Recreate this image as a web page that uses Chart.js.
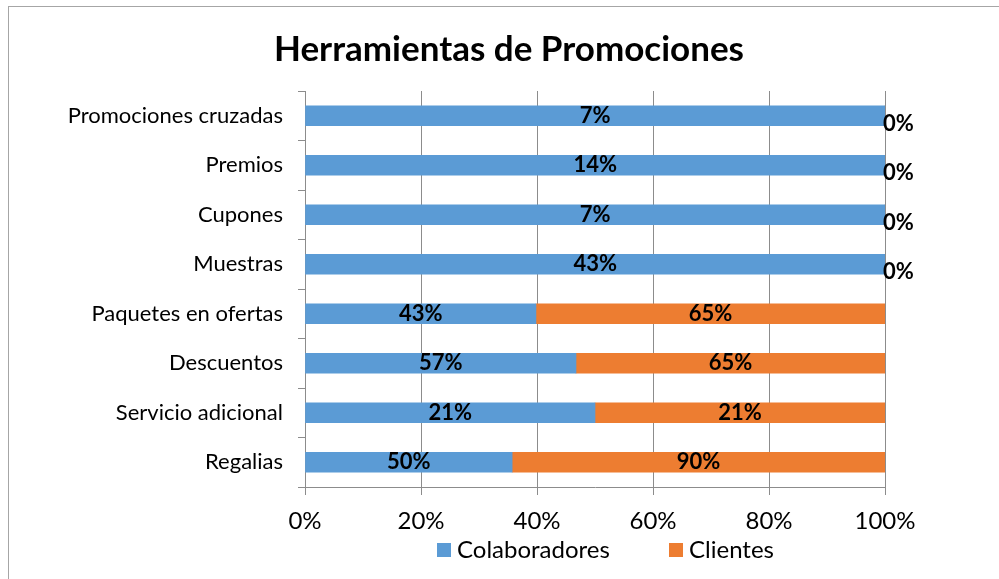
<!DOCTYPE html>
<html>
<head>
<meta charset="utf-8">
<script src="https://cdn.jsdelivr.net/npm/chart.js@4.4.0/dist/chart.umd.min.js"></script>
<style>
  html, body { margin: 0; padding: 0; background: #fff; overflow: hidden; }
  #frame { position: absolute; left: 8px; top: 6px; width: 1200px; height: 800px; border: 1px solid #a6a6a6; }
  #wrap { position: absolute; left: 0; top: 0; width: 999px; height: 579px; }
</style>
</head>
<body>
<div id="frame"></div>
<div id="wrap"><canvas id="barChart" width="999" height="579"></canvas></div>
<script>
// categories, top to bottom
var categorias = ["Promociones cruzadas", "Premios", "Cupones", "Muestras", "Paquetes en ofertas", "Descuentos", "Servicio adicional", "Regalias"];
// raw values shown in the labels (%)
var colaboradores = [7, 14, 7, 43, 43, 57, 21, 50];
var clientes = [0, 0, 0, 0, 65, 65, 21, 90];
var ticksX = [0, 20, 40, 60, 80, 100];
var titulo = "Herramientas de Promociones";

// 100% stacked: each bar is normalised to its row total
var colPct = [], cliPct = [];
for (var i = 0; i < categorias.length; i++) {
  var tot = colaboradores[i] + clientes[i];
  colPct.push(colaboradores[i] / tot * 100);
  cliPct.push(clientes[i] / tot * 100);
}

var fuente = "Lato, 'Noto Sans', sans-serif";

// value labels on the bars
var etiquetas = {
  id: 'etiquetas',
  afterDatasetsDraw: function(chart) {
    var ctx = chart.ctx;
    var raw = [colaboradores, clientes];
    ctx.save();
    ctx.font = "bold 22px " + fuente;
    ctx.fillStyle = "#000";
    ctx.textBaseline = "middle";
    chart.data.datasets.forEach(function(ds, d) {
      chart.getDatasetMeta(d).data.forEach(function(el, i) {
        var v = raw[d][i];
        if (v === 0) {
          ctx.textAlign = "left";
          ctx.fillText(v + "%", el.x - 2, el.y + 8);
        } else {
          ctx.textAlign = "center";
          ctx.fillText(v + "%", (el.x + el.base) / 2, el.y);
        }
      });
    });
    ctx.restore();
  }
};

// title and legend placed like the original
var tituloLeyenda = {
  id: 'tituloLeyenda',
  afterDraw: function(chart) {
    var ctx = chart.ctx;
    ctx.save();
    ctx.fillStyle = "#000";
    ctx.textBaseline = "middle";
    ctx.textAlign = "center";
    ctx.font = "bold 35px " + fuente;
    ctx.fillText(titulo, 509, 50);

    ctx.font = "24px " + fuente;
    ctx.textAlign = "left";
    var x = 437;
    chart.data.datasets.forEach(function(ds) {
      ctx.fillStyle = ds.backgroundColor;
      ctx.fillRect(x, 543, 14, 14);
      ctx.fillStyle = "#000";
      ctx.fillText(ds.label, x + 20, 550);
      x += 232;
    });
    ctx.restore();
  }
};

var ctxB = document.getElementById("barChart").getContext("2d");
var grafico = new Chart(ctxB, {
  type: 'bar',
  data: {
    labels: categorias,
    datasets: [{
      label: "Colaboradores",
      data: colPct,
      backgroundColor: "#5B9BD5",
      barThickness: 20
    }, {
      label: "Clientes",
      data: cliPct,
      backgroundColor: "#ED7D31",
      barThickness: 20
    }]
  },
  options: {
    indexAxis: 'y',
    responsive: false,
    animation: false,
    layout: { padding: { left: 8, right: 114, top: 91, bottom: 0 } },
    plugins: {
      title: { display: false },
      legend: { display: false },
      tooltip: { enabled: false }
    },
    scales: {
      x: {
        stacked: true,
        min: 0,
        max: 100,
        afterBuildTicks: function(s) { s.ticks = ticksX.map(function(v) { return { value: v }; }); },
        afterFit: function(s) { s.height = 92; },
        ticks: {
          color: "#000",
          font: { family: fuente, size: 24 },
          padding: 12,
          maxRotation: 0,
          callback: function(v) { return v + "%"; }
        },
        grid: { color: "#8c8c8c", tickLength: 8, drawTicks: true },
        border: { color: "#8c8c8c" }
      },
      y: {
        stacked: true,
        afterFit: function(s) { s.width = 297; },
        ticks: {
          color: "#000",
          font: { family: fuente, size: 22 },
          padding: 15
        },
        grid: { drawOnChartArea: false, color: "#8c8c8c", tickLength: 7 },
        border: { color: "#8c8c8c" }
      }
    }
  },
  plugins: [etiquetas, tituloLeyenda]
});
</script>
</body>
</html>
